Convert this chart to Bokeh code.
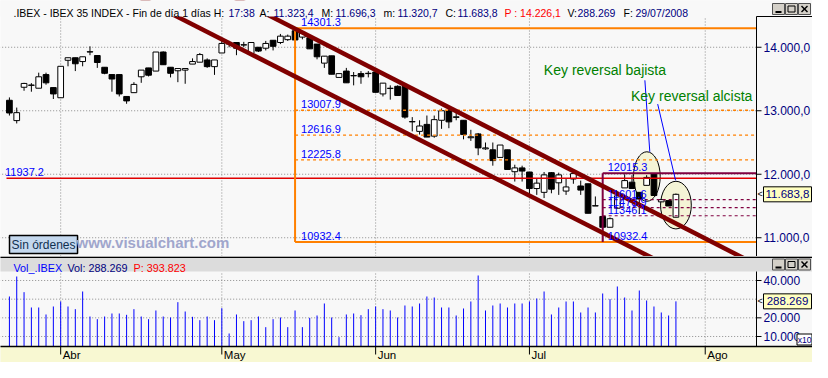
from bokeh.plotting import figure
from bokeh.layouts import column
from bokeh.models import Range1d, Label, ColumnDataSource
from bokeh.core.properties import value
from bokeh.embed import file_html
from bokeh.resources import INLINE

# ---------------- data (daily candles, IBEX 35, 19/03/2008 - 29/07/2008) ----------------
opens = [13165, 12845, 13370, 13400, 13355, 13570, 13365, 13205, 13795, 13835,
         13775, 13925, 13870, 13685, 13570, 13570, 13225, 13285, 13535, 13675,
         13625, 13925, 13685, 13630, 13640, 13735, 13765, 13800, 13695, 13910,
         14065, 14075, 14035, 13900, 14000, 13985, 14110, 14075, 14120, 14260,
         14160, 14150, 14050, 13750, 13865, 13525, 13625, 13550, 13585, 13585,
         13610, 13265, 13350, 13385, 13385, 12825, 12675, 12785, 12600, 12850,
         13000, 12895, 12850, 12575, 12635, 12400, 12385, 12265, 12385, 12040,
         12100, 12035, 11775, 11715, 12025, 11865, 11735, 11925, 11815, 11850,
         11500, 11335, 11165, 11465, 11785, 11875, 11715, 11825, 12010, 11565,
         11585, 11323.4]
highs = [13210, 13050, 13440, 13435, 13600, 13600, 13365, 13700, 13835, 13835,
         13850, 14015, 13870, 13685, 13570, 13570, 13225, 13450, 13640, 13675,
         13925, 13935, 13685, 13665, 13665, 13825, 13910, 13825, 13800, 14150,
         14100, 14075, 14085, 14075, 14000, 14100, 14110, 14210, 14200, 14301.3,
         14225, 14190, 14050, 13860, 13865, 13585, 13675, 13610, 13625, 13625,
         13625, 13435, 13400, 13400, 13385, 12900, 12850, 12925, 12925, 13035,
         13050, 12990, 12850, 12700, 12650, 12500, 12500, 12460, 12385, 12150,
         12135, 12035, 11925, 12035, 12035, 12025, 11925, 12010, 11900, 11850,
         11650, 11335, 11320, 11700, 12000, 11985, 11715, 11985, 12015.3, 11610,
         11585, 11696.3]
lows = [12925, 12800, 13315, 13300, 13355, 13410, 13185, 13205, 13700, 13625,
        13700, 13875, 13675, 13575, 13300, 13225, 13110, 13285, 13440, 13540,
        13625, 13725, 13525, 13450, 13425, 13735, 13765, 13675, 13565, 13910,
        14000, 13875, 14000, 13900, 13925, 13950, 13950, 14050, 14100, 14100,
        14125, 13975, 13810, 13675, 13575, 13525, 13440, 13400, 13425, 13525,
        13290, 13225, 13175, 13240, 12875, 12675, 12625, 12585, 12575, 12715,
        12725, 12850, 12550, 12525, 12300, 12385, 12135, 12265, 12075, 11885,
        11885, 11650, 11675, 11625, 11700, 11675, 11675, 11850, 11675, 11385,
        11500, 10932.4, 11165, 11465, 11785, 11775, 11375, 11825, 11665, 11565,
        11500, 11320.7]
closes = [12965, 12970, 13430, 13405, 13535, 13440, 13265, 13700, 13835, 13740,
          13850, 13930, 13760, 13590, 13500, 13265, 13155, 13415, 13640, 13560,
          13925, 13725, 13590, 13665, 13665, 13775, 13885, 13695, 13800, 14060,
          14050, 13985, 14040, 14075, 13940, 14060, 14015, 14175, 14175, 14115,
          14225, 13975, 13850, 13860, 13575, 13585, 13440, 13555, 13535, 13590,
          13290, 13435, 13355, 13240, 12900, 12830, 12760, 12585, 12860, 13000,
          12825, 12905, 12625, 12590, 12415, 12415, 12215, 12460, 12075, 12100,
          12050, 11775, 11860, 11990, 11765, 11990, 11800, 12010, 11750, 11385,
          11505, 11165, 11300, 11660, 11900, 11775, 11610, 11950, 11665, 11600,
          11500, 11683.8]
# volume in units of x10 (as on the volume axis)
volumes = [31430, 42140, 33750, 25540, 25540, 21790, 26070, 28750, 26070, 24640,
           34110, 20710, 19290, 20710, 22320, 22320, 21610, 24640, 20710, 19290,
           23930, 20710, 20180, 28390, 23390, 20540, 18750, 20710, 18750, 25180,
           11610, 21790, 18210, 18750, 20710, 15000, 19290, 20180, 15000, 23930,
           15000, 20000, 21250, 27680, 20180, 9640, 21790, 22320, 21430, 24640,
           26070, 24640, 23930, 20180, 26610, 26070, 27680, 31430, 30890, 25540,
           25540, 21250, 25000, 28750, 42680, 23930, 26610, 27680, 25540, 27680,
           27680, 28750, 30360, 34110, 21790, 25540, 28750, 28750, 22860, 25540,
           22860, 33040, 30000, 36790, 30890, 23930, 34640, 29290, 26070, 22860,
           21250, 28826.9]

month_labels = ["Abr", "May", "Jun", "Jul", "Ago"]
month_pos = [7, 29, 50, 71, 95]

price_ticks = [11000, 12000, 13000, 14000]
price_tick_labels = ["11.000,0", "12.000,0", "13.000,0", "14.000,0"]
vol_ticks = [10000, 20000, 40000]
vol_tick_labels = ["10.000", "20.000", "40.000"]
vol_grid = [10000, 20000, 30000, 40000]

fib_main_levels = [14301.3, 13007.9, 12616.9, 12225.8, 10932.4]
fib_main_start = 39
fib_small_levels = [12015.3, 11601.6, 11473.9, 11346.1]
fib_small_start = 81
support_level = 11937.2

channel_x = [15, 102]
channel_upper = [15708, 10575]
channel_lower = [14946, 9848]

key_idx = [88, 91]
prev_close_ref = "14.226,1"
vol_avg_ref = "393.823"

# ---------------- geometry / styles ----------------
FONT = "Liberation Sans"
BG = "#F8F8F8"
GRAY = "#DCDCDC"
YEL = "#F8F8D2"
NAVY = "#000080"
ORANGE = "#FF8000"
PURPLE = "#800040"
TOTAL_W = 812
DATA_W = 756
XR0, XR_DATA_END = -1.216, 102.0
PX = (XR_DATA_END - XR0) / DATA_W


def fx(px):
    return XR0 + px * PX


xr = Range1d(XR0, fx(TOTAL_W))

P_LO, P_HI, P_PANEL, P_HDR = 10704.5, 14484.5, 240, 16
PY = (P_HI - P_LO) / P_PANEL
P_TOP = P_HI + P_HDR * PY


def fy(py):
    return P_TOP - py * PY


V_LO, V_HI, V_PANEL, V_HDR, D_H = 4640, 44820, 75, 15, 16
VPY = (V_HI - V_LO) / V_PANEL
V_TOP = V_HI + V_HDR * VPY
V_BOT = V_LO - D_H * VPY


def vy(py):
    return V_TOP - py * VPY


def es(v, dec=1):
    s = f"{v:,.{dec}f}"
    return s.replace(",", "X").replace(".", ",").replace("X", ".")


def make_fig(h, y0, y1):
    f = figure(frame_width=TOTAL_W, frame_height=h, x_range=xr, y_range=Range1d(y0, y1),
               x_axis_location=None, y_axis_location=None,
               toolbar_location=None, output_backend="svg", min_border=0,
               background_fill_color=BG, border_fill_color=BG, outline_line_color=None)
    f.grid.visible = False
    return f


def txt(f, xs, ys, texts, color, size, align="left", baseline="middle", **kw):
    f.text(x=xs, y=ys, text=texts, text_color=color, text_font=value(FONT),
           text_font_size=size, text_align=align, text_baseline=baseline, **kw)


def window_buttons(f, yc, unit):
    bx = [fx(778), fx(791), fx(804)]
    f.rect(x=bx, y=yc, width=12, height=11, width_units="screen", height_units="screen",
           fill_color="#D4D0C8", line_color="#505050", line_width=1)
    f.segment(x0=fx(775), y0=yc - 3 * unit, x1=fx(781), y1=yc - 3 * unit,
              line_color="black", line_width=2)
    f.rect(x=bx[1], y=yc, width=7, height=6, width_units="screen", height_units="screen",
           fill_color=None, line_color="black", line_width=1)
    f.segment(x0=[fx(801), fx(801)], y0=[yc - 3 * unit, yc + 3 * unit],
              x1=[fx(807), fx(807)], y1=[yc + 3 * unit, yc - 3 * unit],
              line_color="black", line_width=1.5)


def right_axis(f, ticks, labels, lo, hi):
    f.segment(x0=XR_DATA_END, y0=lo, x1=XR_DATA_END, y1=hi, line_color="black", line_width=1)
    f.segment(x0=[XR_DATA_END] * len(ticks), y0=ticks, x1=[fx(DATA_W + 5)] * len(ticks),
              y1=ticks, line_color="black", line_width=1)
    txt(f, [XR_DATA_END] * len(ticks), ticks, labels, NAVY, "12px", x_offset=7)


def value_box(f, yv, label):
    txt(f, [fx(DATA_W + 1)], [yv], ["<"], "black", "9px")
    f.rect(x=fx(DATA_W + 31), y=yv, width=48, height=15, width_units="screen",
           height_units="screen", fill_color="#FFFFC0", line_color="black", line_width=1)
    txt(f, [fx(DATA_W + 31)], [yv], [label], NAVY, "11.5px", align="center")


n = len(opens)
idx = list(range(n))
last = n - 1
last_vol_text = es(volumes[last] * 10, 0)

# ================= price figure (header + price panel + price axis) =================
p = make_fig(P_HDR + P_PANEL, P_LO, P_TOP)

# grid
p.segment(x0=[XR0 - 1] * len(price_ticks), y0=price_ticks, x1=[XR_DATA_END] * len(price_ticks),
          y1=price_ticks, line_color="#8C8C8C", line_dash="1 2", line_width=1, level="underlay")
p.segment(x0=month_pos, y0=[P_LO] * len(month_pos), x1=month_pos, y1=[P_HI] * len(month_pos),
          line_color="#8C8C8C", line_dash="1 2", line_width=1, level="underlay")

# ellipses around key reversals (behind candles)
p.ellipse(x=[key_idx[0] - 0.97, key_idx[1]], y=[11964, 11514],
          width=[3.65, 4.2], height=[780, 750],
          fill_color="#F4F4D6", line_color="black", line_width=1)

src = ColumnDataSource(dict(
    x=idx, high=highs, low=lows,
    top=[max(o, c) for o, c in zip(opens, closes)],
    bottom=[min(o, c) for o, c in zip(opens, closes)],
    fill=["white" if c >= o else "black" for o, c in zip(opens, closes)],
))
p.segment(x0="x", y0="high", x1="x", y1="low", source=src, line_color="black", line_width=1)
p.vbar(x="x", width=0.78, top="top", bottom="bottom", fill_color="fill",
       line_color="black", line_width=1, source=src)

# support line
p.segment(x0=-0.4, y0=support_level, x1=XR_DATA_END, y1=support_level,
          line_color="#E00000", line_width=1.5)

# main Fibonacci retracement (orange)
lo_main = min(fib_main_levels)
hi_main = max(fib_main_levels)
solid_main = [l for l in fib_main_levels if l in (lo_main, hi_main)]
dash_main = [l for l in fib_main_levels if l not in (lo_main, hi_main)]
p.segment(x0=fib_main_start, y0=lo_main, x1=fib_main_start, y1=hi_main,
          line_color=ORANGE, line_width=2)
p.segment(x0=[fib_main_start] * len(solid_main), y0=solid_main,
          x1=[XR_DATA_END] * len(solid_main), y1=solid_main, line_color=ORANGE, line_width=2)
p.segment(x0=[fib_main_start] * len(dash_main), y0=dash_main,
          x1=[XR_DATA_END] * len(dash_main), y1=dash_main, line_color=ORANGE,
          line_width=1.3, line_dash="3 3")

# small Fibonacci retracement (purple)
hi_small = max(fib_small_levels)
dash_small = [l for l in fib_small_levels if l != hi_small]
p.segment(x0=fib_small_start, y0=lo_main, x1=fib_small_start, y1=hi_small,
          line_color=PURPLE, line_width=2)
p.segment(x0=fib_small_start, y0=hi_small, x1=XR_DATA_END, y1=hi_small,
          line_color=PURPLE, line_width=2)
p.segment(x0=[fib_small_start] * len(dash_small), y0=dash_small,
          x1=[XR_DATA_END] * len(dash_small), y1=dash_small, line_color=PURPLE,
          line_width=1.2, line_dash="3 3")

# descending channel
p.line(channel_x, channel_upper, line_color="#800000", line_width=4.5)
p.line(channel_x, channel_lower, line_color="#800000", line_width=4.5)

# pointer lines
p.segment(x0=[86.76, 88.51], y0=[13479.5, 13104.5], x1=[87.43, 90.95], y1=[12354.5, 11904.5],
          line_color="#0000FF", line_width=1)

# level labels
txt(p, [fib_main_start] * len(fib_main_levels), fib_main_levels,
    [f"{l:.1f}" for l in fib_main_levels], "#0000FF", "11px", baseline="bottom",
    x_offset=6, y_offset=-2)
small_lab = fib_small_levels + [lo_main]
txt(p, [fib_small_start] * len(small_lab), small_lab,
    [f"{l:.1f}" for l in small_lab], "#0000FF", "11px", baseline="bottom",
    x_offset=5, y_offset=-2)
txt(p, [-0.6], [support_level], [f"{support_level:.1f}"], "#0000FF", "11px",
    baseline="bottom", y_offset=-2)

# annotations
txt(p, [72.97, 84.86], [13644.5, 13239.5], ["Key reversal bajista", "Key reversal alcista"],
    "#008000", "14px")

p.add_layout(Label(x=9, y=3, x_units="screen", y_units="screen", text="Sin órdenes",
                   text_font=FONT, text_font_size="12px", text_color="#103050",
                   text_baseline="bottom", background_fill_color="#C4D8EE",
                   border_line_color="black", border_line_width=1.5, padding=2))
p.add_layout(Label(x=76, y=14, x_units="screen", y_units="screen", text="www.visualchart.com",
                   text_font=FONT, text_font_size="15px", text_font_style="bold",
                   text_color="#A0A6CC", text_baseline="middle"))

# header strip (masks the lines that run above the panel)
p.quad(left=fx(-5), right=fx(TOTAL_W + 5), bottom=P_HI, top=P_TOP + PY,
       fill_color=BG, line_color=None)
header_parts = [
    (13, ".IBEX - IBEX 35 INDEX - Fin de día 1 días H:", "black"),
    (228, "17:38", NAVY),
    (259, "A:", "black"),
    (273, es(opens[last]), NAVY),
    (321, "M:", "black"),
    (335, es(highs[last]), NAVY),
    (383, "m:", "black"),
    (397, es(lows[last]), NAVY),
    (445, "C:", "black"),
    (457, es(closes[last]), NAVY),
    (504, "P : " + prev_close_ref, "#FF0000"),
    (567, "V:", "black"),
    (577, last_vol_text, NAVY),
    (623, "F:", "black"),
    (635, "29/07/2008", NAVY),
]
txt(p, [fx(h[0]) for h in header_parts], [fy(12.3)] * len(header_parts),
    [h[1] for h in header_parts], [h[2] for h in header_parts], "10.5px",
    baseline="alphabetic")
window_buttons(p, fy(8.5), PY)

# right price axis
p.segment(x0=XR_DATA_END, y0=P_HI, x1=fx(TOTAL_W), y1=P_HI, line_color="black", line_width=1)
right_axis(p, price_ticks, price_tick_labels, P_LO, P_HI)
value_box(p, closes[last], es(closes[last]))

# ================= volume figure (header + volume panel + date strip) =================
v = make_fig(V_HDR + V_PANEL + D_H, V_BOT, V_TOP)
v.segment(x0=[XR0 - 1] * len(vol_grid), y0=vol_grid, x1=[XR_DATA_END] * len(vol_grid),
          y1=vol_grid, line_color="#8C8C8C", line_dash="1 2", line_width=1, level="underlay")
v.segment(x0=month_pos, y0=[V_LO] * len(month_pos), x1=month_pos, y1=[V_HI] * len(month_pos),
          line_color="#8C8C8C", line_dash="1 2", line_width=1, level="underlay")
v.segment(x0=idx, y0=[V_LO] * n, x1=idx, y1=volumes, line_color="#0000FF", line_width=1)

# header strip
v.quad(left=fx(-5), right=fx(TOTAL_W + 5), bottom=V_HI, top=V_TOP + VPY,
       fill_color=GRAY, line_color=None)
v.segment(x0=fx(-5), y0=vy(0.7), x1=fx(TOTAL_W + 5), y1=vy(0.7), line_color="black", line_width=1.5)
vh_parts = [(13, "Vol_.IBEX", "#0000FF"),
            (67, "Vol: " + last_vol_text, NAVY),
            (133, "P: " + vol_avg_ref, "#FF0000")]
txt(v, [fx(h[0]) for h in vh_parts], [vy(11.5)] * 3, [h[1] for h in vh_parts],
    [h[2] for h in vh_parts], "10.8px", baseline="alphabetic")
window_buttons(v, vy(8), VPY)

# right volume axis
right_axis(v, vol_ticks, vol_tick_labels, V_LO, V_HI)
value_box(v, volumes[last], last_vol_text)
v.rect(x=fx(804), y=V_LO + 7 * VPY, width=15, height=11, width_units="screen",
       height_units="screen", fill_color="white", line_color="black", line_width=1)
txt(v, [fx(804)], [V_LO + 7 * VPY], ["x10"], NAVY, "8.5px", align="center")

# date strip
v.quad(left=fx(-5), right=fx(TOTAL_W + 5), bottom=V_BOT - VPY, top=V_LO,
       fill_color=YEL, line_color=None)
v.segment(x0=fx(-5), y0=V_LO, x1=fx(TOTAL_W + 5), y1=V_LO, line_color="black", line_width=1.5)
v.segment(x0=month_pos, y0=[V_LO] * len(month_pos), x1=month_pos,
          y1=[V_LO - 8 * VPY] * len(month_pos), line_color="black", line_width=1)
txt(v, month_pos, [V_LO - 8.5 * VPY] * len(month_pos), month_labels, "black", "11.5px",
    baseline="middle", x_offset=2)

layout = column(p, v, spacing=0)
open("out.html", "w").write(file_html(layout, INLINE))
